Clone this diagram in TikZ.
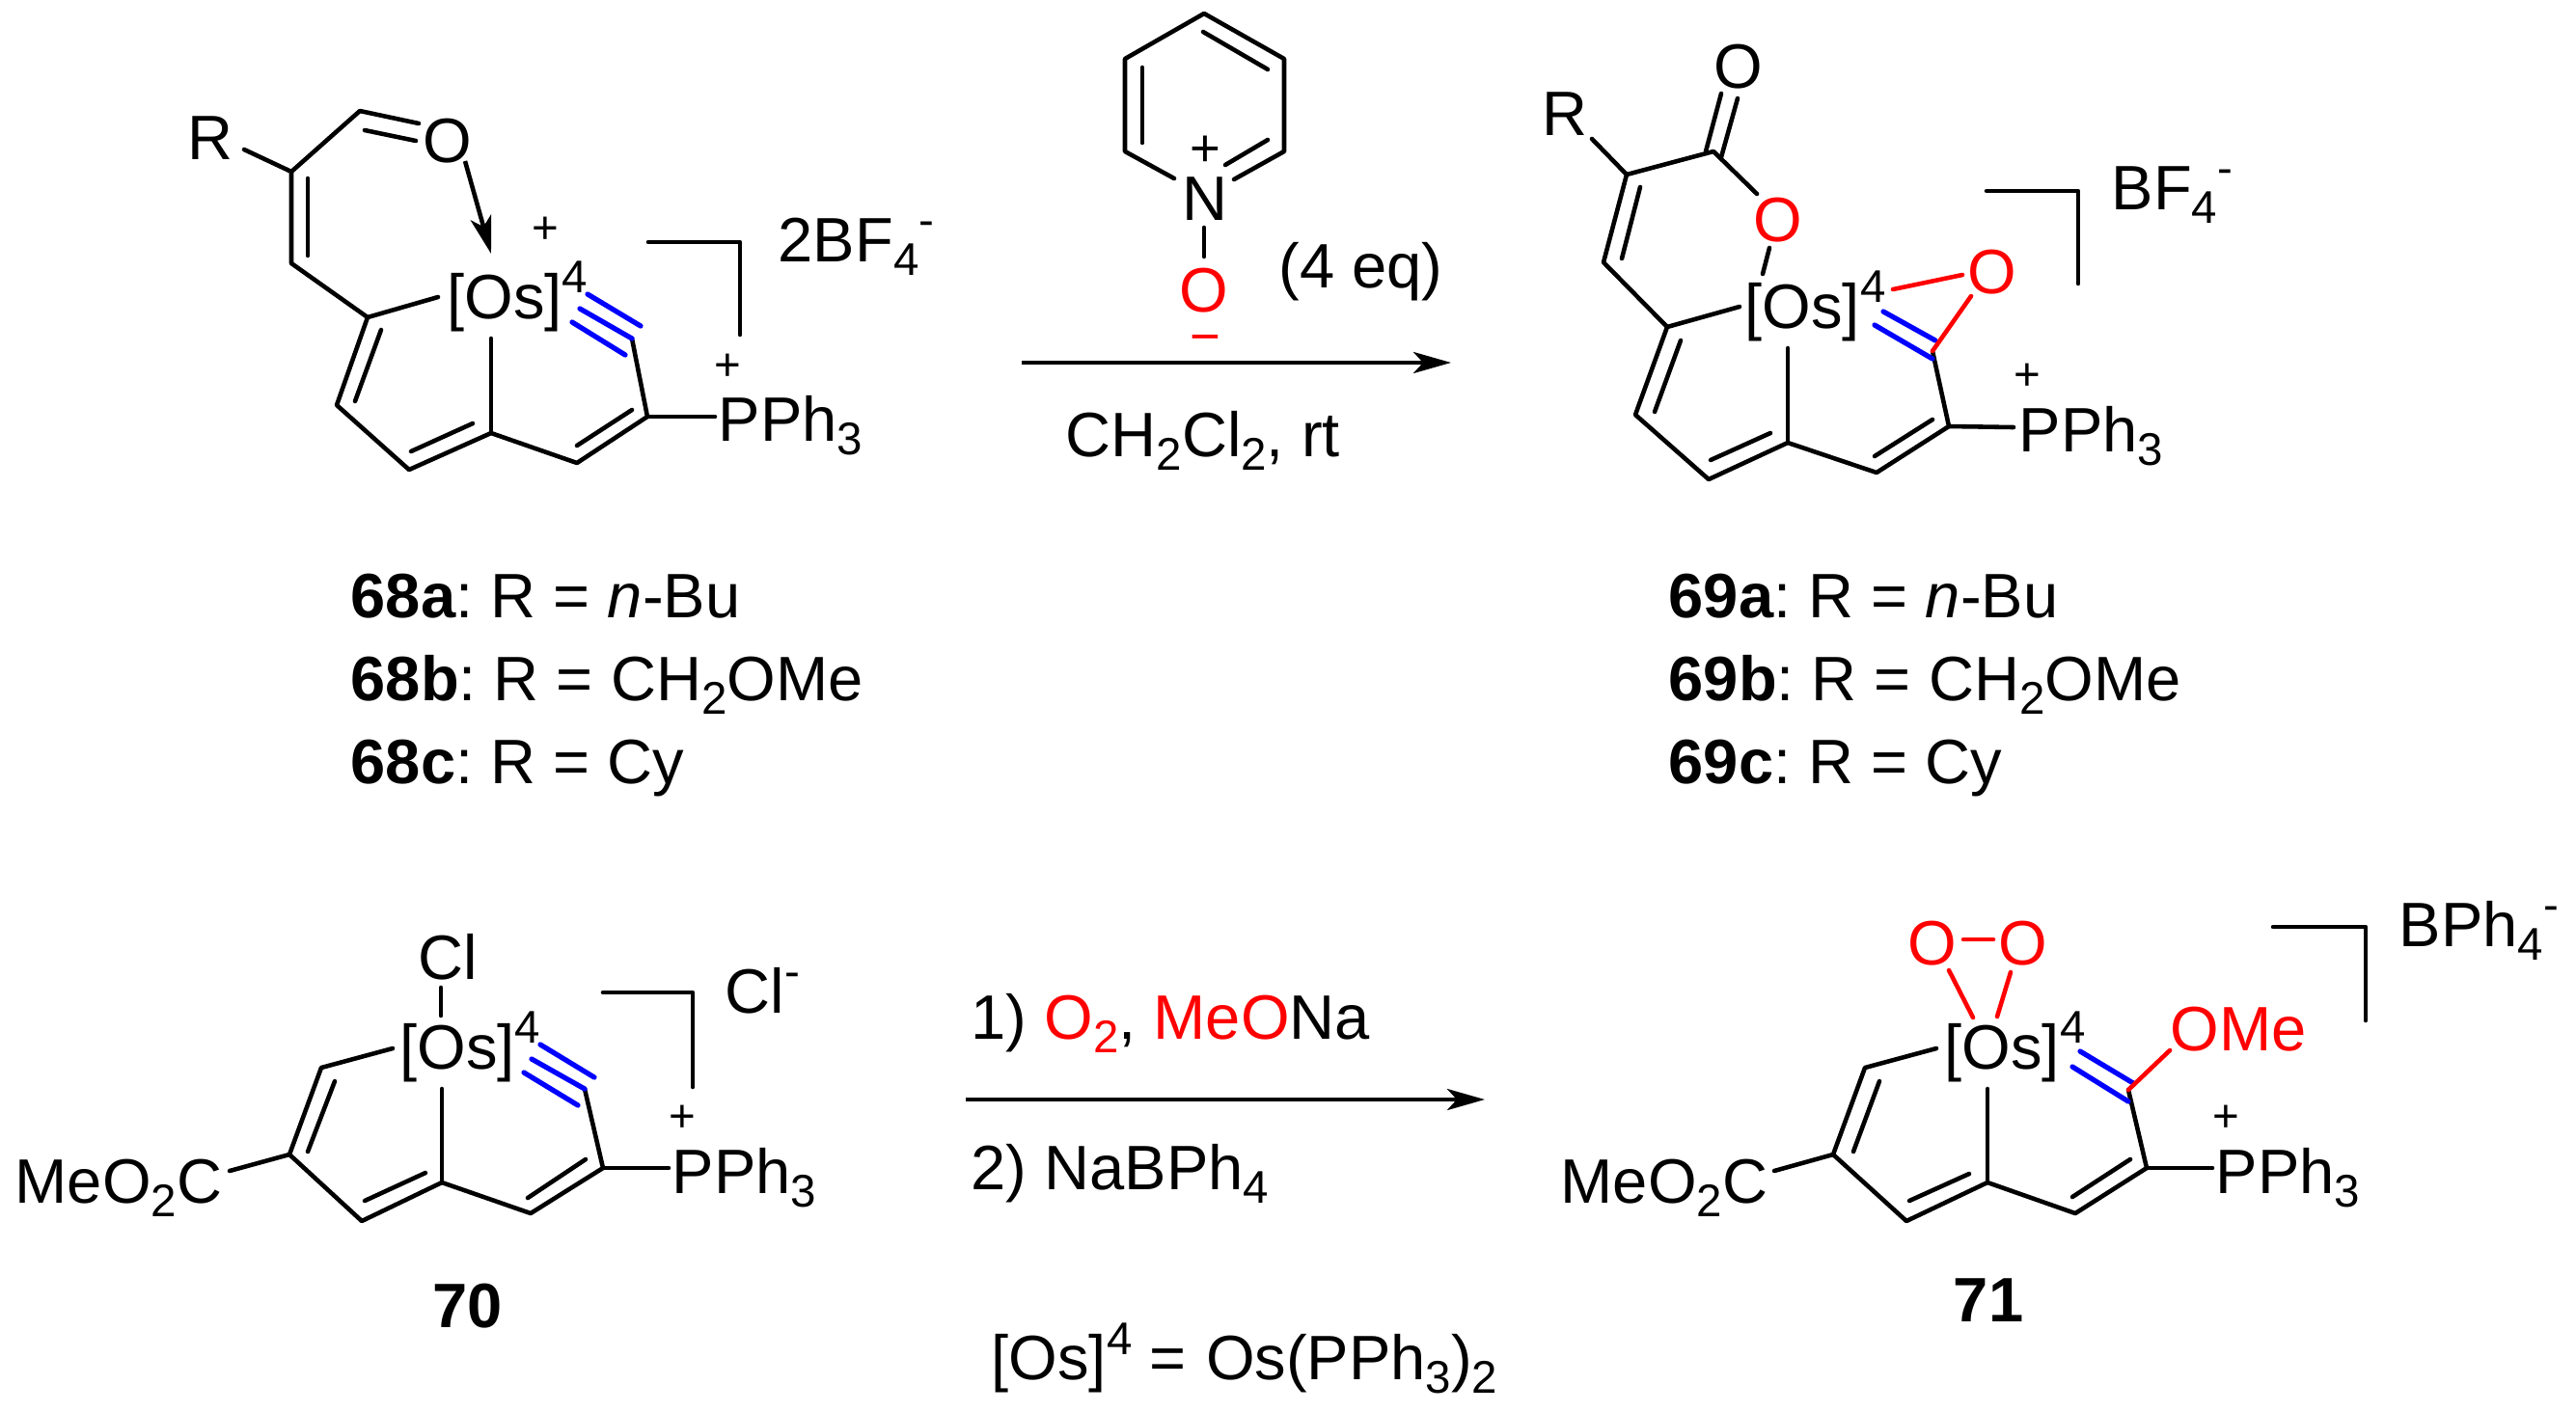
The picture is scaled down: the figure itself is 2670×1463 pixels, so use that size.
\documentclass[tikz,border=0pt]{standalone}
\usepackage{fontspec}
\setmainfont{Liberation Sans}
\usetikzlibrary{arrows.meta}
\frenchspacing

\newcommand{\lowidx}[1]{\raisebox{-.23em}{\fontsize{13.5}{14}\selectfont #1}}
\newcommand{\highidx}[1]{\raisebox{.4em}{\fontsize{13.5}{14}\selectfont #1}}

\tikzset{
  bond/.style={line width=1.3pt, line cap=round, line join=round},
  redbond/.style={bond, red},
  bluebond/.style={bond, blue, line width=1.5pt},
  rxnarrow/.style={line width=1.3pt, -{Stealth[length=39*0.01cm, width=22*0.01cm, inset=10*0.01cm]}},
  txt/.style={inner sep=0pt, anchor=base west, font=\fontsize{18.5}{20}\selectfont},
  atm/.style={inner sep=0pt, anchor=base, font=\fontsize{18.5}{20}\selectfont},
  chg/.style={inner sep=0pt, anchor=base, font=\fontsize{13.5}{14}\selectfont},
  pychg/.style={inner sep=0pt, anchor=base, font=\fontsize{15.5}{16}\selectfont},
}

\begin{document}
\begin{tikzpicture}[x=0.01cm, y=-0.01cm]
  \useasboundingbox (0,0) rectangle (2670,1463);

  \node[txt] (ra) at (194,165) {R};
  \node[atm] (oa) at (464,168) {O};
  \node[txt] (osa) at (463,330) {[Os]\highidx{4}};
  \node[chg] (pa1) at (565,252) {+};
  \node[chg] (pa2) at (754,394) {+};
  \node[txt] (pa) at (744,457) {PPh\lowidx{3}};
  \node[txt] (ana) at (806,271) {2BF\lowidx{4}\highidx{-}};
  \coordinate (a1) at (302,178); \coordinate (a2) at (373,115); \coordinate (a3) at (302,273);
  \coordinate (a4) at (381,329); \coordinate (a5) at (349,420); \coordinate (a6) at (424,487);
  \coordinate (a7) at (509,449); \coordinate (a8) at (598,480); \coordinate (a9) at (671,432);
  \coordinate (a10) at (655,351);
  \coordinate (ar) at (253,155); \coordinate (ao1) at (434,128); \coordinate (ao2) at (378,135);
  \coordinate (ao3) at (431,146); \coordinate (aos) at (454,308); \coordinate (aos2) at (509,351);
  \coordinate (ap) at (741,432);
  \coordinate (ad1) at (319,185); \coordinate (ad2) at (319,265); \coordinate (ad3) at (395,342);
  \coordinate (ad4) at (368,416); \coordinate (ad5) at (426,468); \coordinate (ad6) at (490,439);
  \coordinate (ad7) at (598,462); \coordinate (ad8) at (655,425);
  \coordinate (at1) at (601,320); \coordinate (at2) at (609,305); \coordinate (at3) at (664,338);
  \coordinate (at4) at (593,334); \coordinate (at5) at (648,368);
  \coordinate (ab1) at (672,251); \coordinate (ab2) at (767,251); \coordinate (ab3) at (767,347);
  \coordinate (aw1) at (482,167); \coordinate (aw2) at (509,263);
  \draw[bond] (ar) -- (a1) -- (a2) -- (ao1);
  \draw[bond] (ao2) -- (ao3);
  \draw[bond] (a1) -- (a3) -- (a4) -- (a5) -- (a6) -- (a7) -- (a8) -- (a9) -- (a10);
  \draw[bond] (a4) -- (aos);
  \draw[bond] (aos2) -- (a7);
  \draw[bond] (a9) -- (ap);
  \draw[bond] (ad1) -- (ad2);
  \draw[bond] (ad3) -- (ad4);
  \draw[bond] (ad5) -- (ad6);
  \draw[bond] (ad7) -- (ad8);
  \draw[bluebond] (at1) -- (a10);
  \draw[bluebond] (at2) -- (at3);
  \draw[bluebond] (at4) -- (at5);
  \draw[bond] (ab1) -- (ab2) -- (ab3);
  \draw[rxnarrow] (aw1) -- (aw2);

  \coordinate (py1) at (1166,61); \coordinate (py2) at (1248,14); \coordinate (py3) at (1331,61);
  \coordinate (py4) at (1331,157); \coordinate (py5) at (1279,186);
  \coordinate (py6) at (1166,157); \coordinate (py7) at (1217,185);
  \coordinate (pd1) at (1247,33); \coordinate (pd2) at (1314,72); \coordinate (pd3) at (1184,70);
  \coordinate (pd4) at (1184,148); \coordinate (pd5) at (1270,171); \coordinate (pd6) at (1314,145);
  \coordinate (pn1) at (1248,236); \coordinate (pn2) at (1248,266);
  \draw[bond] (py7) -- (py6) -- (py1) -- (py2) -- (py3) -- (py4) -- (py5);
  \draw[bond] (pd1) -- (pd2);
  \draw[bond] (pd3) -- (pd4);
  \draw[bond] (pd5) -- (pd6);
  \draw[bond] (pn1) -- (pn2);
  \node[pychg] (pyc) at (1249,172) {+};
  \node[atm] (py) at (1249,228) {N};
  \node[atm, red] (ox) at (1248,323) {O};
  \node[pychg, red] (oxc) at (1249,367) {−};
  \node[txt] (eq) at (1325,298) {(4 eq)};
  \coordinate (r1a) at (1059,376); \coordinate (r1b) at (1504,376);
  \draw[rxnarrow] (r1a) -- (r1b);
  \node[txt] (sol) at (1104,473) {CH\lowidx{2}Cl\lowidx{2}, rt};

  \node[txt] (rb) at (1598,140) {R};
  \node[atm] (ob) at (1802,91) {O};
  \node[atm, red] (oc) at (1843,250) {O};
  \node[atm, red] (od) at (2065,304) {O};
  \node[txt] (osb) at (1808,340) {[Os]\highidx{4}};
  \node[chg] (pb1) at (2101,404) {+};
  \node[txt] (pb) at (2092,468) {PPh\lowidx{3}};
  \node[txt] (anb) at (2188,217) {BF\lowidx{4}\highidx{-}};
  \coordinate (b1) at (1686,181); \coordinate (b2) at (1776,157); \coordinate (b3) at (1662,272);
  \coordinate (b4) at (1728,339); \coordinate (b5) at (1695,430); \coordinate (b6) at (1771,497);
  \coordinate (b7) at (1853,459); \coordinate (b8) at (1945,490); \coordinate (b9) at (2020,442);
  \coordinate (b10) at (2003,364);
  \coordinate (br) at (1650,144); \coordinate (bo1) at (1768,157); \coordinate (bo2) at (1784,97);
  \coordinate (bo3) at (1784,163); \coordinate (bo4) at (1801,102); \coordinate (bo5) at (1821,201);
  \coordinate (bo6) at (1834,257); \coordinate (bo7) at (1827,284); \coordinate (bos) at (1803,318);
  \coordinate (bos2) at (1853,361); \coordinate (bp) at (2087,443);
  \coordinate (bd1) at (1700,194); \coordinate (bd2) at (1681,268); \coordinate (bd3) at (1742,353);
  \coordinate (bd4) at (1715,427); \coordinate (bd5) at (1773,477); \coordinate (bd6) at (1835,449);
  \coordinate (bd7) at (1943,473); \coordinate (bd8) at (2003,435);
  \coordinate (bt1) at (1952,323); \coordinate (bt2) at (2006,353); \coordinate (bt3) at (1943,337);
  \coordinate (bt4) at (2003,372);
  \coordinate (bx1) at (1962,300); \coordinate (bx2) at (2034,285); \coordinate (bx3) at (2043,307);
  \coordinate (bb1) at (2059,198); \coordinate (bb2) at (2154,198); \coordinate (bb3) at (2154,294);
  \draw[bond] (br) -- (b1) -- (b2) -- (bo5);
  \draw[bond] (bo1) -- (bo2);
  \draw[bond] (bo3) -- (bo4);
  \draw[bond] (bo6) -- (bo7);
  \draw[bond] (b1) -- (b3) -- (b4) -- (b5) -- (b6) -- (b7) -- (b8) -- (b9) -- (b10);
  \draw[bond] (b4) -- (bos);
  \draw[bond] (bos2) -- (b7);
  \draw[bond] (b9) -- (bp);
  \draw[bond] (bd1) -- (bd2);
  \draw[bond] (bd3) -- (bd4);
  \draw[bond] (bd5) -- (bd6);
  \draw[bond] (bd7) -- (bd8);
  \draw[bluebond] (bt1) -- (bt2);
  \draw[bluebond] (bt3) -- (bt4);
  \draw[redbond] (bx1) -- (bx2);
  \draw[redbond] (bx3) -- (b10);
  \draw[bond] (bb1) -- (bb2) -- (bb3);

  \node[txt] (la1) at (363,640) {\textbf{68a}: R = \textit{n}-Bu};
  \node[txt] (la2) at (363,726) {\textbf{68b}: R = CH\lowidx{2}OMe};
  \node[txt] (la3) at (363,812) {\textbf{68c}: R = Cy};
  \node[txt] (lb1) at (1729,640) {\textbf{69a}: R = \textit{n}-Bu};
  \node[txt] (lb2) at (1729,726) {\textbf{69b}: R = CH\lowidx{2}OMe};
  \node[txt] (lb3) at (1729,812) {\textbf{69c}: R = Cy};

  \node[atm] (cl) at (464,1015) {Cl};
  \node[txt] (osc) at (414,1108) {[Os]\highidx{4}};
  \node[txt] (mc) at (15,1247) {MeO\lowidx{2}C};
  \node[chg] (pc1) at (707,1173) {+};
  \node[txt] (pc) at (696,1237) {PPh\lowidx{3}};
  \node[txt] (anc) at (751,1050) {Cl\highidx{-}};
  \coordinate (c1) at (333,1107); \coordinate (c2) at (300,1197); \coordinate (c3) at (375,1266);
  \coordinate (c4) at (458,1226); \coordinate (c5) at (550,1258); \coordinate (c6) at (625,1211);
  \coordinate (c7) at (606,1129);
  \coordinate (cc1) at (457,1024); \coordinate (cc2) at (457,1053); \coordinate (cos) at (407,1087);
  \coordinate (cos2) at (458,1129); \coordinate (cm) at (238,1214); \coordinate (cp) at (693,1211);
  \coordinate (cd1) at (347,1121); \coordinate (cd2) at (319,1194); \coordinate (cd3) at (378,1245);
  \coordinate (cd4) at (441,1216); \coordinate (cd5) at (547,1242); \coordinate (cd6) at (607,1202);
  \coordinate (ct1) at (551,1098); \coordinate (ct2) at (560,1083); \coordinate (ct3) at (616,1117);
  \coordinate (ct4) at (543,1112); \coordinate (ct5) at (599,1146);
  \coordinate (cb1) at (625,1029); \coordinate (cb2) at (718,1029); \coordinate (cb3) at (718,1127);
  \draw[bond] (cc1) -- (cc2);
  \draw[bond] (cos) -- (c1) -- (c2) -- (c3) -- (c4) -- (c5) -- (c6) -- (c7);
  \draw[bond] (cos2) -- (c4);
  \draw[bond] (cm) -- (c2);
  \draw[bond] (c6) -- (cp);
  \draw[bond] (cd1) -- (cd2);
  \draw[bond] (cd3) -- (cd4);
  \draw[bond] (cd5) -- (cd6);
  \draw[bluebond] (ct1) -- (c7);
  \draw[bluebond] (ct2) -- (ct3);
  \draw[bluebond] (ct4) -- (ct5);
  \draw[bond] (cb1) -- (cb2) -- (cb3);
  \node[atm] (lc) at (485,1376) {\textbf{70}};

  \coordinate (r2a) at (1001,1140); \coordinate (r2b) at (1539,1140);
  \draw[rxnarrow] (r2a) -- (r2b);
  \node[txt] (st1) at (1006,1077) {1) {\color{red}O\lowidx{2}}, {\color{red}MeO}Na};
  \node[txt] (st2) at (1006,1233) {2) NaBPh\lowidx{4}};
  \node[txt] (os) at (1027,1430) {[Os]\highidx{4} = \kern.04em Os(PPh\lowidx{3})\lowidx{2}};

  \node[atm, red] (oe) at (2003,1000) {O};
  \node[atm, red] (of) at (2097,1000) {O};
  \node[txt] (osd) at (2015,1108) {[Os]\highidx{4}};
  \node[txt, red] (ome) at (2249,1089) {OMe};
  \node[txt] (md) at (1617,1247) {MeO\lowidx{2}C};
  \node[chg] (pd1) at (2307,1173) {+};
  \node[txt] (pd) at (2296,1237) {PPh\lowidx{3}};
  \node[txt] (and) at (2486,981) {BPh\lowidx{4}\highidx{-}};
  \coordinate (d1) at (1933,1107); \coordinate (d2) at (1900,1197); \coordinate (d3) at (1976,1266);
  \coordinate (d4) at (2060,1226); \coordinate (d5) at (2151,1258); \coordinate (d6) at (2225,1211);
  \coordinate (d7) at (2206,1130);
  \coordinate (dos) at (2007,1087); \coordinate (dos2) at (2060,1129); \coordinate (dm) at (1839,1214);
  \coordinate (dp) at (2293,1211); \coordinate (dme) at (2249,1089);
  \coordinate (dd1) at (1948,1121); \coordinate (dd2) at (1921,1194); \coordinate (dd3) at (1979,1245);
  \coordinate (dd4) at (2041,1217); \coordinate (dd5) at (2148,1241); \coordinate (dd6) at (2208,1202);
  \coordinate (dt1) at (2156,1090); \coordinate (dt2) at (2211,1123); \coordinate (dt3) at (2148,1106);
  \coordinate (dt4) at (2206,1142);
  \coordinate (dx1) at (2035,974); \coordinate (dx2) at (2066,974); \coordinate (dx3) at (2020,1006);
  \coordinate (dx4) at (2045,1055); \coordinate (dx5) at (2084,1008); \coordinate (dx6) at (2070,1054);
  \coordinate (db1) at (2356,961); \coordinate (db2) at (2452,961); \coordinate (db3) at (2452,1058);
  \draw[bond] (dos) -- (d1) -- (d2) -- (d3) -- (d4) -- (d5) -- (d6) -- (d7);
  \draw[bond] (dos2) -- (d4);
  \draw[bond] (dm) -- (d2);
  \draw[bond] (d6) -- (dp);
  \draw[bond] (dd1) -- (dd2);
  \draw[bond] (dd3) -- (dd4);
  \draw[bond] (dd5) -- (dd6);
  \draw[bluebond] (dt1) -- (dt2);
  \draw[bluebond] (dt3) -- (dt4);
  \draw[redbond] (d7) -- (dme);
  \draw[redbond] (dx1) -- (dx2);
  \draw[redbond] (dx3) -- (dx4);
  \draw[redbond] (dx5) -- (dx6);
  \draw[bond] (db1) -- (db2) -- (db3);
  \node[atm] (ld) at (2061,1370) {\textbf{71}};
\end{tikzpicture}
\end{document}
